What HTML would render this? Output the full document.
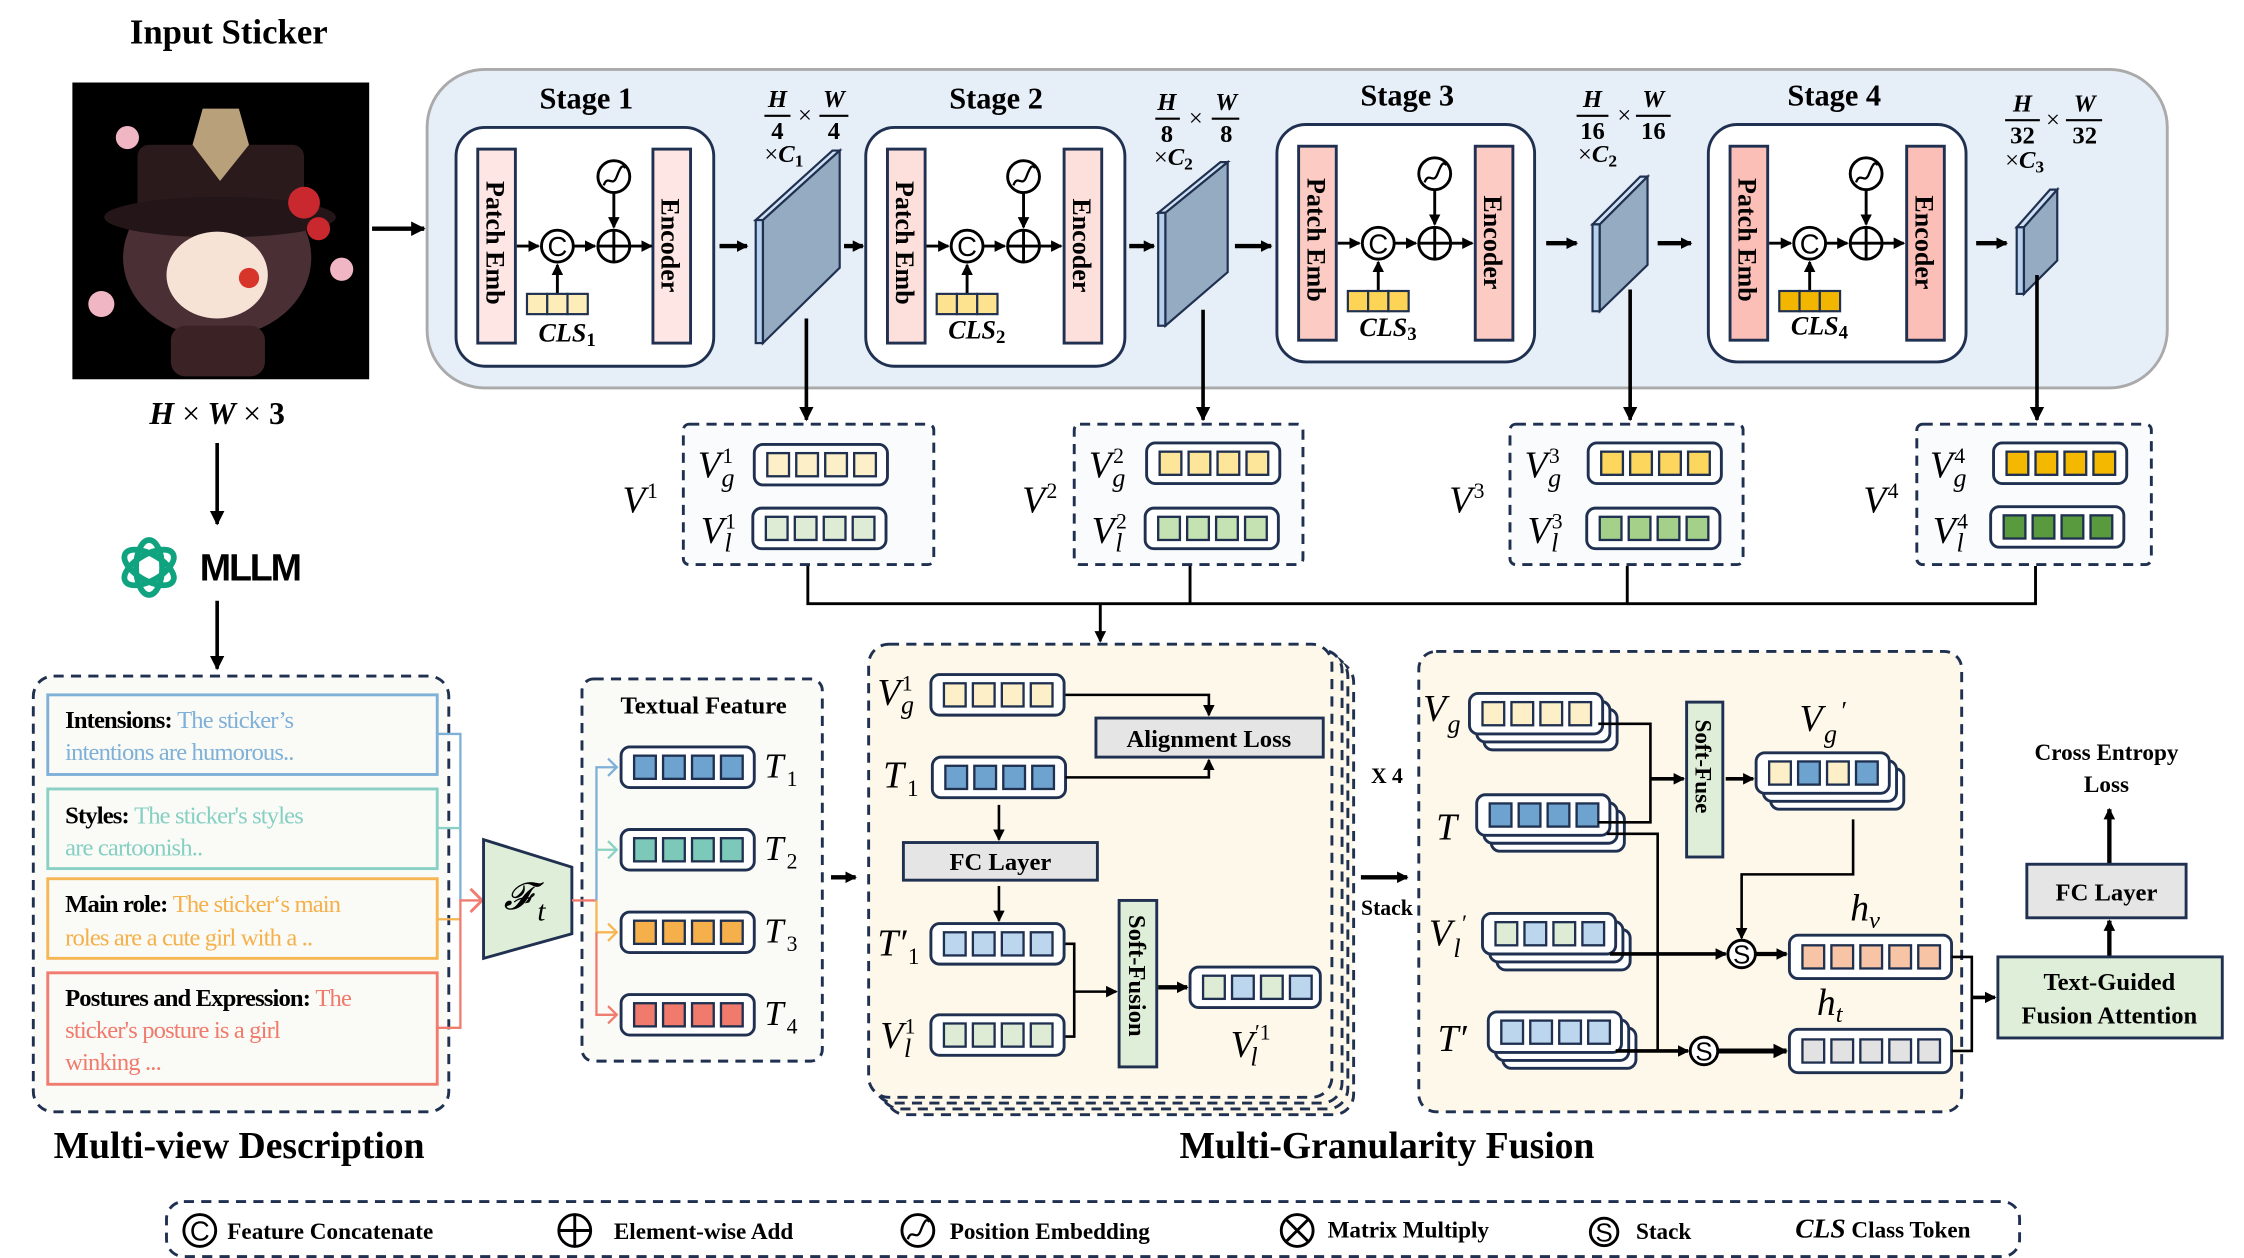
<!DOCTYPE html>
<html><head><meta charset="utf-8"><style>
html,body{margin:0;padding:0;background:#fff;}
svg{display:block;}
text{font-family:"Liberation Serif",serif;}
.b{font-weight:bold;}
.i{font-style:italic;}
.s{font-family:"Liberation Sans",sans-serif;}
</style></head><body>
<svg width="2244" height="1258" viewBox="0 0 1550 869" preserveAspectRatio="none" xmlns="http://www.w3.org/2000/svg">
<defs>
<marker id="ah" markerWidth="8" markerHeight="8" refX="7" refY="4" orient="auto" markerUnits="userSpaceOnUse"><path d="M0,0 L8,4 L0,8 z" fill="#000"/></marker>
<marker id="ahb" markerWidth="10" markerHeight="10" refX="9" refY="5" orient="auto" markerUnits="userSpaceOnUse"><path d="M0,0 L10,5 L0,10 z" fill="#000"/></marker>
<g id="r4"><rect x="0" y="0" width="92" height="28" rx="6" fill="#fff" stroke="#1f3050" stroke-width="2"/>
<rect x="9" y="6" width="15" height="16" fill="currentColor" stroke="#1f3050" stroke-width="1.6"/><rect x="29" y="6" width="15" height="16" fill="currentColor" stroke="#1f3050" stroke-width="1.6"/><rect x="49" y="6" width="15" height="16" fill="currentColor" stroke="#1f3050" stroke-width="1.6"/><rect x="69" y="6" width="15" height="16" fill="currentColor" stroke="#1f3050" stroke-width="1.6"/></g>
<g id="r4s"><rect x="10" y="11" width="92" height="28" rx="6" fill="#fff" stroke="#1f3050" stroke-width="2"/><rect x="5" y="5.5" width="92" height="28" rx="6" fill="#fff" stroke="#1f3050" stroke-width="2"/><use href="#r4"/></g>
<g id="r5"><rect x="0" y="0" width="112" height="30" rx="6" fill="#fff" stroke="#1f3050" stroke-width="2"/>
<rect x="9" y="7" width="15" height="16" fill="currentColor" stroke="#1f3050" stroke-width="1.6"/><rect x="29" y="7" width="15" height="16" fill="currentColor" stroke="#1f3050" stroke-width="1.6"/><rect x="49" y="7" width="15" height="16" fill="currentColor" stroke="#1f3050" stroke-width="1.6"/><rect x="69" y="7" width="15" height="16" fill="currentColor" stroke="#1f3050" stroke-width="1.6"/><rect x="89" y="7" width="15" height="16" fill="currentColor" stroke="#1f3050" stroke-width="1.6"/></g>
<g id="cc"><circle r="11" fill="#fff" stroke="#000" stroke-width="2"/><text y="7" text-anchor="middle" font-size="19" class="s">C</text></g>
<g id="pc"><circle r="11" fill="#fff" stroke="#000" stroke-width="2"/><path d="M-11,0H11M0,-11V11" stroke="#000" stroke-width="2"/></g>
<g id="pe"><circle r="11" fill="#fff" stroke="#000" stroke-width="2"/><path d="M-7,6 C-4,-2 -1,8 2,0 S6,-8 8,-6" stroke="#000" stroke-width="1.6" fill="none"/></g>
<g id="sc"><circle r="9.5" fill="#fff" stroke="#000" stroke-width="2"/><text y="6.5" text-anchor="middle" font-size="18" class="s">S</text></g>
</defs>

<!-- Input sticker -->
<text x="158" y="30" text-anchor="middle" font-size="24" class="b">Input Sticker</text>
<rect x="50" y="57" width="205" height="205" fill="#000"/>
<ellipse cx="150" cy="178" rx="65" ry="55" fill="#4a3035"/>
<rect x="95" y="100" width="115" height="55" rx="8" fill="#2a1a1c"/>
<ellipse cx="152" cy="150" rx="80" ry="14" fill="#241618"/>
<polygon points="140,75 165,75 172,100 152,125 133,100" fill="#b8a17a"/>
<ellipse cx="150" cy="190" rx="35" ry="30" fill="#f7e3d6"/>
<circle cx="172" cy="192" r="7" fill="#d8352a"/>
<circle cx="210" cy="140" r="11" fill="#c8282e"/><circle cx="220" cy="158" r="8" fill="#c8282e"/>
<circle cx="88" cy="95" r="8" fill="#f1b6c4"/><circle cx="70" cy="210" r="9" fill="#f1b6c4"/><circle cx="236" cy="186" r="8" fill="#f1b6c4"/>
<rect x="118" y="225" width="65" height="35" rx="10" fill="#3a2225"/>
<text x="150" y="293" text-anchor="middle" font-size="22" class="b i">H <tspan font-style="normal" font-weight="normal">×</tspan> W <tspan font-style="normal" font-weight="normal">×</tspan> <tspan font-style="normal">3</tspan></text>
<line x1="150" y1="306" x2="150" y2="362" stroke="#000" stroke-width="2.5" marker-end="url(#ahb)"/>
<g fill="none" stroke="#10a37f" stroke-width="4">
<ellipse cx="103" cy="392" rx="9" ry="19"/><ellipse cx="103" cy="392" rx="9" ry="19" transform="rotate(60 103 392)"/><ellipse cx="103" cy="392" rx="9" ry="19" transform="rotate(-60 103 392)"/></g>
<text x="138" y="401" font-size="26" class="s b" letter-spacing="-1.5">MLLM</text>
<line x1="150" y1="415" x2="150" y2="462" stroke="#000" stroke-width="2.5" marker-end="url(#ahb)"/>

<!-- top panel -->
<rect x="295" y="48" width="1202" height="220" rx="40" fill="#e6eef8" stroke="#aaaaaa" stroke-width="2"/>
<line x1="257" y1="158" x2="293" y2="158" stroke="#000" stroke-width="3" marker-end="url(#ahb)"/>

<!-- stage boxes -->
<g stroke="#1f3050" stroke-width="2">
<rect x="315" y="88" width="178" height="165" rx="20" fill="#fff"/>
<rect x="598" y="88" width="179" height="165" rx="20" fill="#fff"/>
<rect x="882" y="86" width="178" height="164" rx="20" fill="#fff"/>
<rect x="1180" y="86" width="178" height="164" rx="20" fill="#fff"/>
<rect x="330" y="103" width="26" height="134" fill="#fde6e4"/><rect x="451" y="103" width="26" height="134" fill="#fde6e4"/>
<rect x="613" y="103" width="26" height="134" fill="#fde0dc"/><rect x="735" y="103" width="26" height="134" fill="#fde0dc"/>
<rect x="897" y="101" width="26" height="134" fill="#fbcbc4"/><rect x="1019" y="101" width="26" height="134" fill="#fbcbc4"/>
<rect x="1195" y="101" width="26" height="134" fill="#fbbfb7"/><rect x="1317" y="101" width="26" height="134" fill="#fbbfb7"/>
</g>
<g font-size="18" class="b">
<text x="405" y="75" text-anchor="middle" font-size="21">Stage 1</text>
<text x="688" y="75" text-anchor="middle" font-size="21">Stage 2</text>
<text x="972" y="73" text-anchor="middle" font-size="21">Stage 3</text>
<text x="1267" y="73" text-anchor="middle" font-size="21">Stage 4</text>
<text transform="translate(336,125) rotate(90)">Patch Emb</text><text transform="translate(457,137) rotate(90)">Encoder</text>
<text transform="translate(619,125) rotate(90)">Patch Emb</text><text transform="translate(741,137) rotate(90)">Encoder</text>
<text transform="translate(903,123) rotate(90)">Patch Emb</text><text transform="translate(1025,135) rotate(90)">Encoder</text>
<text transform="translate(1201,123) rotate(90)">Patch Emb</text><text transform="translate(1323,135) rotate(90)">Encoder</text>
</g>
<!-- stage internals -->
<g id="st" stroke="#000" stroke-width="2" fill="none">
<line x1="357" y1="170" x2="372" y2="170" marker-end="url(#ah)"/><line x1="396" y1="170" x2="411" y2="170" marker-end="url(#ah)"/><line x1="435" y1="170" x2="450" y2="170" marker-end="url(#ah)"/>
<line x1="424" y1="133" x2="424" y2="157" marker-end="url(#ah)"/><line x1="385" y1="203" x2="385" y2="183" marker-end="url(#ah)"/>
</g>
<use href="#st" x="283"/><use href="#st" x="567" y="-2"/><use href="#st" x="865" y="-2"/>
<use href="#cc" x="385" y="170"/><use href="#pc" x="424" y="170"/><use href="#pe" x="424" y="122"/>
<use href="#cc" x="668" y="170"/><use href="#pc" x="707" y="170"/><use href="#pe" x="707" y="122"/>
<use href="#cc" x="952" y="168"/><use href="#pc" x="991" y="168"/><use href="#pe" x="991" y="120"/>
<use href="#cc" x="1250" y="168"/><use href="#pc" x="1289" y="168"/><use href="#pe" x="1289" y="120"/>
<g stroke="#1f3050" stroke-width="1.5">
<rect x="364" y="203" width="14" height="14" fill="#fdeeb9"/><rect x="378" y="203" width="14" height="14" fill="#fdeeb9"/><rect x="392" y="203" width="14" height="14" fill="#fdeeb9"/>
<rect x="647" y="203" width="14" height="14" fill="#fde38f"/><rect x="661" y="203" width="14" height="14" fill="#fde38f"/><rect x="675" y="203" width="14" height="14" fill="#fde38f"/>
<rect x="931" y="201" width="14" height="14" fill="#fdd455"/><rect x="945" y="201" width="14" height="14" fill="#fdd455"/><rect x="959" y="201" width="14" height="14" fill="#fdd455"/>
<rect x="1229" y="201" width="14" height="14" fill="#f3b600"/><rect x="1243" y="201" width="14" height="14" fill="#f3b600"/><rect x="1257" y="201" width="14" height="14" fill="#f3b600"/>
</g>
<g font-size="18" class="b i">
<text x="372" y="236">CLS<tspan font-size="13" dy="3" font-style="normal">1</tspan></text>
<text x="655" y="234">CLS<tspan font-size="13" dy="3" font-style="normal">2</tspan></text>
<text x="939" y="232">CLS<tspan font-size="13" dy="3" font-style="normal">3</tspan></text>
<text x="1237" y="231">CLS<tspan font-size="13" dy="3" font-style="normal">4</tspan></text>
</g>
<!-- arrows between -->
<g stroke="#000" stroke-width="3">
<line x1="497" y1="170" x2="516" y2="170" marker-end="url(#ah)"/><line x1="583" y1="170" x2="596" y2="170" marker-end="url(#ah)"/>
<line x1="780" y1="170" x2="797" y2="170" marker-end="url(#ah)"/><line x1="853" y1="170" x2="878" y2="170" marker-end="url(#ah)"/>
<line x1="1068" y1="168" x2="1089" y2="168" marker-end="url(#ah)"/><line x1="1145" y1="168" x2="1168" y2="168" marker-end="url(#ah)"/>
<line x1="1365" y1="168" x2="1386" y2="168" marker-end="url(#ah)"/>
</g>
<!-- feature maps -->
<g stroke="#1f3050" stroke-width="1.5">
<polygon points="522,152 575,104 580,104 527,152" fill="#cfe0f3"/><rect x="522" y="152" width="5" height="85" fill="#b7d0ec"/>
<polygon points="527,152 580,104 580,185 527,237" fill="#94abc2"/>
<polygon points="800,147 843,112 848,112 805,147" fill="#cfe0f3"/><rect x="800" y="147" width="5" height="78" fill="#b7d0ec"/>
<polygon points="805,147 848,112 848,188 805,225" fill="#94abc2"/>
<polygon points="1100,155 1133,122 1138,122 1105,155" fill="#cfe0f3"/><rect x="1100" y="155" width="5" height="60" fill="#b7d0ec"/>
<polygon points="1105,155 1138,122 1138,183 1105,215" fill="#94abc2"/>
<polygon points="1393,157 1416,131 1421,131 1398,157" fill="#cfe0f3"/><rect x="1393" y="157" width="5" height="46" fill="#b7d0ec"/>
<polygon points="1398,157 1421,131 1421,180 1398,203" fill="#94abc2"/>
</g>
<!-- size labels -->
<g font-size="17" class="b i">
<text x="537" y="74" text-anchor="middle">H</text><line x1="528" y1="80" x2="546" y2="80" stroke="#000" stroke-width="1.5"/><text x="537" y="96" text-anchor="middle" font-style="normal">4</text>
<text x="556" y="85" text-anchor="middle" font-weight="normal" font-style="normal">×</text>
<text x="576" y="74" text-anchor="middle">W</text><line x1="566" y1="80" x2="586" y2="80" stroke="#000" stroke-width="1.5"/><text x="576" y="96" text-anchor="middle" font-style="normal">4</text>
<text x="528" y="112"><tspan font-weight="normal" font-style="normal">×</tspan>C<tspan font-size="12" dy="3" font-style="normal">1</tspan></text>
<text x="806" y="76" text-anchor="middle">H</text><line x1="798" y1="82" x2="815" y2="82" stroke="#000" stroke-width="1.5"/><text x="806" y="98" text-anchor="middle" font-style="normal">8</text>
<text x="826" y="87" text-anchor="middle" font-weight="normal" font-style="normal">×</text>
<text x="847" y="76" text-anchor="middle">W</text><line x1="837" y1="82" x2="856" y2="82" stroke="#000" stroke-width="1.5"/><text x="847" y="98" text-anchor="middle" font-style="normal">8</text>
<text x="797" y="114"><tspan font-weight="normal" font-style="normal">×</tspan>C<tspan font-size="12" dy="3" font-style="normal">2</tspan></text>
<text x="1100" y="74" text-anchor="middle">H</text><line x1="1089" y1="80" x2="1111" y2="80" stroke="#000" stroke-width="1.5"/><text x="1100" y="96" text-anchor="middle" font-style="normal">16</text>
<text x="1122" y="85" text-anchor="middle" font-weight="normal" font-style="normal">×</text>
<text x="1142" y="74" text-anchor="middle">W</text><line x1="1130" y1="80" x2="1154" y2="80" stroke="#000" stroke-width="1.5"/><text x="1142" y="96" text-anchor="middle" font-style="normal">16</text>
<text x="1090" y="112"><tspan font-weight="normal" font-style="normal">×</tspan>C<tspan font-size="12" dy="3" font-style="normal">2</tspan></text>
<text x="1397" y="77" text-anchor="middle">H</text><line x1="1385" y1="83" x2="1409" y2="83" stroke="#000" stroke-width="1.5"/><text x="1397" y="99" text-anchor="middle" font-style="normal">32</text>
<text x="1418" y="88" text-anchor="middle" font-weight="normal" font-style="normal">×</text>
<text x="1440" y="77" text-anchor="middle">W</text><line x1="1427" y1="83" x2="1452" y2="83" stroke="#000" stroke-width="1.5"/><text x="1440" y="99" text-anchor="middle" font-style="normal">32</text>
<text x="1385" y="116"><tspan font-weight="normal" font-style="normal">×</tspan>C<tspan font-size="12" dy="3" font-style="normal">3</tspan></text>
</g>
<!-- down arrows -->
<g stroke="#000" stroke-width="2.5">
<line x1="557" y1="220" x2="557" y2="290" marker-end="url(#ahb)"/>
<line x1="831" y1="214" x2="831" y2="290" marker-end="url(#ahb)"/>
<line x1="1126" y1="200" x2="1126" y2="290" marker-end="url(#ahb)"/>
<line x1="1407" y1="190" x2="1407" y2="290" marker-end="url(#ahb)"/>
</g>
<!-- V boxes -->
<g fill="#fafbfc" stroke="#1f3050" stroke-width="2" stroke-dasharray="7,5">
<rect x="472" y="293" width="173" height="97" rx="4"/>
<rect x="742" y="293" width="158" height="97" rx="4"/>
<rect x="1043" y="293" width="161" height="97" rx="4"/>
<rect x="1324" y="293" width="162" height="97" rx="4"/>
</g>
<use href="#r4" x="521" y="307" style="color:#fdf0c8"/><use href="#r4" x="520" y="351" style="color:#deecd6"/>
<use href="#r4" x="792" y="306" style="color:#fde59a"/><use href="#r4" x="791" y="351" style="color:#c5e2b3"/>
<use href="#r4" x="1097" y="306" style="color:#fdd65e"/><use href="#r4" x="1096" y="351" style="color:#a4d08a"/>
<use href="#r4" x="1377" y="306" style="color:#f5b800"/><use href="#r4" x="1375" y="350" style="color:#5a9a3e"/>
<g font-size="26" class="i">
<text x="482" y="330">V<tspan font-size="15" dx="1" dy="-10" font-style="normal">1</tspan><tspan font-size="18" dx="-8" dy="16">g</tspan></text>
<text x="484" y="375">V<tspan font-size="15" dx="1" dy="-10" font-style="normal">1</tspan><tspan font-size="18" dx="-8" dy="16">l</tspan></text>
<text x="752" y="330">V<tspan font-size="15" dx="1" dy="-10" font-style="normal">2</tspan><tspan font-size="18" dx="-8" dy="16">g</tspan></text>
<text x="754" y="375">V<tspan font-size="15" dx="1" dy="-10" font-style="normal">2</tspan><tspan font-size="18" dx="-8" dy="16">l</tspan></text>
<text x="1053" y="330">V<tspan font-size="15" dx="1" dy="-10" font-style="normal">3</tspan><tspan font-size="18" dx="-8" dy="16">g</tspan></text>
<text x="1055" y="375">V<tspan font-size="15" dx="1" dy="-10" font-style="normal">3</tspan><tspan font-size="18" dx="-8" dy="16">l</tspan></text>
<text x="1333" y="330">V<tspan font-size="15" dx="1" dy="-10" font-style="normal">4</tspan><tspan font-size="18" dx="-8" dy="16">g</tspan></text>
<text x="1335" y="375">V<tspan font-size="15" dx="1" dy="-10" font-style="normal">4</tspan><tspan font-size="18" dx="-8" dy="16">l</tspan></text>
<text x="430" y="354">V<tspan font-size="15" dx="1" dy="-10" font-style="normal">1</tspan></text>
<text x="706" y="354">V<tspan font-size="15" dx="1" dy="-10" font-style="normal">2</tspan></text>
<text x="1001" y="354">V<tspan font-size="15" dx="1" dy="-10" font-style="normal">3</tspan></text>
<text x="1287" y="354">V<tspan font-size="15" dx="1" dy="-10" font-style="normal">4</tspan></text>
</g>
<g stroke="#000" stroke-width="2" fill="none">
<path d="M558,391V417H1406V391"/><path d="M822,391V417M1124,391V417"/>
<line x1="760" y1="417" x2="760" y2="443" marker-end="url(#ah)"/>
</g>

<!-- Multi-view description -->
<rect x="23" y="467" width="287" height="301" rx="14" fill="#fafbf6" stroke="#1f3050" stroke-width="2" stroke-dasharray="7,5"/>
<rect x="33" y="480" width="269" height="55" fill="#fafbf6" stroke="#7fb0d8" stroke-width="2"/>
<rect x="33" y="545" width="269" height="55" fill="#fafbf6" stroke="#8ad0c4" stroke-width="2"/>
<rect x="33" y="607" width="269" height="55" fill="#fafbf6" stroke="#f6b654" stroke-width="2"/>
<rect x="33" y="672" width="269" height="77" fill="#fafbf6" stroke="#f07c70" stroke-width="2"/>
<g font-size="17" class="s" letter-spacing="-0.6">
<text x="45" y="503"><tspan class="b" font-family="Liberation Serif" fill="#000">Intensions: </tspan><tspan fill="#7fb0d8">The sticker’s</tspan></text>
<text x="45" y="525" fill="#7fb0d8">intentions are humorous..</text>
<text x="45" y="569"><tspan class="b" font-family="Liberation Serif" fill="#000">Styles: </tspan><tspan fill="#86cfc3">The sticker's styles</tspan></text>
<text x="45" y="591" fill="#86cfc3">are cartoonish..</text>
<text x="45" y="630"><tspan class="b" font-family="Liberation Serif" fill="#000">Main role: </tspan><tspan fill="#f6b04b">The sticker‘s main</tspan></text>
<text x="45" y="653" fill="#f6b04b">roles are a cute girl with a ..</text>
<text x="45" y="695"><tspan class="b" font-family="Liberation Serif" fill="#000">Postures and Expression: </tspan><tspan fill="#f07a6c">The</tspan></text>
<text x="45" y="717" fill="#f07a6c">sticker's posture is a girl</text>
<text x="45" y="739" fill="#f07a6c">winking ...</text>
</g>
<g fill="none" stroke-width="1.6">
<path d="M302,507H318V622" stroke="#7fb0d8"/>
<path d="M302,572H318" stroke="#8ad0c4"/>
<path d="M302,635H318" stroke="#f6b654"/>
<path d="M302,710H318V622H332" stroke="#f07c70"/>
<path d="M325,614L333,622L325,630" stroke="#f07c70" stroke-width="2"/>
</g>
<text x="37" y="800" font-size="26" class="b">Multi-view Description</text>

<!-- Ft trapezoid -->
<polygon points="334,580 395,599 395,645 334,662" fill="#dfeed8" stroke="#1f3050" stroke-width="2"/>
<text x="348" y="628" font-size="26" class="i">𝓕<tspan font-size="20" dx="4" dy="8">t</tspan></text>

<!-- Textual feature -->
<rect x="402" y="469" width="166" height="264" rx="8" fill="#fafbf6" stroke="#1f3050" stroke-width="2" stroke-dasharray="7,5"/>
<text x="486" y="493" text-anchor="middle" font-size="17" class="b">Textual Feature</text>
<g fill="none" stroke-width="1.6">
<path d="M395,622H412" stroke="#f07c70"/>
<path d="M412,622V530H426" stroke="#7fb0d8"/><path d="M420,524L426,530L420,536" stroke="#7fb0d8"/>
<path d="M412,587H426" stroke="#8ad0c4"/><path d="M420,581L426,587L420,593" stroke="#8ad0c4"/>
<path d="M412,622V644H426" stroke="#f6b654"/><path d="M420,638L426,644L420,650" stroke="#f6b654"/>
<path d="M412,644V701H426" stroke="#f07c70"/><path d="M420,695L426,701L420,707" stroke="#f07c70"/>
</g>
<use href="#r4" x="429" y="516" style="color:#6fa3cf"/>
<use href="#r4" x="429" y="573" style="color:#7dc9b9"/>
<use href="#r4" x="429" y="630" style="color:#f6b04b"/>
<use href="#r4" x="429" y="687" style="color:#f07a6c"/>
<g font-size="24" class="i">
<text x="528" y="537">T<tspan font-size="15" dx="2" dy="6" font-style="normal">1</tspan></text>
<text x="528" y="594">T<tspan font-size="15" dx="2" dy="6" font-style="normal">2</tspan></text>
<text x="528" y="651">T<tspan font-size="15" dx="2" dy="6" font-style="normal">3</tspan></text>
<text x="528" y="708">T<tspan font-size="15" dx="2" dy="6" font-style="normal">4</tspan></text>
</g>
<line x1="574" y1="606" x2="591" y2="606" stroke="#000" stroke-width="3" marker-end="url(#ah)"/>

<!-- Multi-granularity box 1 -->
<g fill="#fdf8ea" stroke="#1f3050" stroke-width="2" stroke-dasharray="7,5">
<rect x="612" y="457" width="323" height="313" rx="14"/>
<rect x="608" y="453" width="323" height="313" rx="14"/>
<rect x="604" y="449" width="323" height="313" rx="14"/>
<rect x="600" y="445" width="320" height="313" rx="14"/>
</g>
<use href="#r4" x="643" y="466" style="color:#fdf0c8"/>
<use href="#r4" x="644" y="523" style="color:#6fa3cf"/>
<use href="#r4" x="643" y="638" style="color:#bcd6ee"/>
<use href="#r4" x="643" y="701" style="color:#deecd6"/>
<rect x="757" y="496" width="157" height="27" fill="#e5e5e5" stroke="#1f3050" stroke-width="2"/>
<text x="835" y="516" text-anchor="middle" font-size="17" class="b">Alignment Loss</text>
<rect x="624" y="582" width="134" height="26" fill="#e5e5e5" stroke="#1f3050" stroke-width="2"/>
<text x="691" y="601" text-anchor="middle" font-size="17" class="b">FC Layer</text>
<rect x="773" y="622" width="26" height="115" fill="#dfeed8" stroke="#1f3050" stroke-width="2"/>
<text transform="translate(780,632) rotate(90)" font-size="17" class="b">Soft-Fusion</text>
<g>
<rect x="822" y="668" width="90" height="28" rx="6" fill="#fff" stroke="#1f3050" stroke-width="2"/>
<rect x="831" y="674" width="15" height="16" fill="#deecd6" stroke="#1f3050" stroke-width="1.6"/><rect x="851" y="674" width="15" height="16" fill="#bcd6ee" stroke="#1f3050" stroke-width="1.6"/><rect x="871" y="674" width="15" height="16" fill="#deecd6" stroke="#1f3050" stroke-width="1.6"/><rect x="891" y="674" width="15" height="16" fill="#bcd6ee" stroke="#1f3050" stroke-width="1.6"/>
</g>
<g font-size="26" class="i">
<text x="606" y="487">V<tspan font-size="15" dx="1" dy="-10" font-style="normal">1</tspan><tspan font-size="18" dx="-8" dy="16">g</tspan></text>
<text x="610" y="544">T<tspan font-size="16" dx="2" dy="6" font-style="normal">1</tspan></text>
<text x="606" y="660">T′<tspan font-size="16" dx="1" dy="6" font-style="normal">1</tspan></text>
<text x="608" y="724">V<tspan font-size="15" dx="1" dy="-10" font-style="normal">1</tspan><tspan font-size="18" dx="-8" dy="16">l</tspan></text>
<text x="850" y="730">V<tspan font-size="15" dx="1" dy="-12" font-style="normal">′1</tspan><tspan font-size="18" dx="-14" dy="18">l</tspan></text>
</g>
<g stroke="#000" stroke-width="1.8" fill="none">
<path d="M736,480H835V494" marker-end="url(#ah)"/>
<path d="M736,537H835V525" marker-end="url(#ah)"/>
<line x1="690" y1="556" x2="690" y2="580" marker-end="url(#ah)"/>
<line x1="690" y1="612" x2="690" y2="636" marker-end="url(#ah)"/>
<path d="M736,652H742V716H736"/>
<line x1="742" y1="685" x2="771" y2="685" marker-end="url(#ah)"/>
<line x1="800" y1="682" x2="820" y2="682" stroke-width="3" marker-end="url(#ah)"/>
</g>

<text x="958" y="541" text-anchor="middle" font-size="15" class="b">X 4</text>
<line x1="940" y1="606" x2="972" y2="606" stroke="#000" stroke-width="3" marker-end="url(#ah)"/>
<text x="958" y="632" text-anchor="middle" font-size="15" class="b">Stack</text>

<!-- Multi-granularity box 2 -->
<rect x="980" y="450" width="375" height="318" rx="12" fill="#fdf8ea" stroke="#1f3050" stroke-width="2" stroke-dasharray="7,5"/>
<use href="#r4s" x="1015" y="479" style="color:#fdf0c8"/>
<use href="#r4s" x="1020" y="549" style="color:#6fa3cf"/>
<g transform="translate(1024,631)"><rect x="10" y="11" width="92" height="28" rx="6" fill="#fff" stroke="#1f3050" stroke-width="2"/><rect x="5" y="5.5" width="92" height="28" rx="6" fill="#fff" stroke="#1f3050" stroke-width="2"/><rect x="0" y="0" width="92" height="28" rx="6" fill="#fff" stroke="#1f3050" stroke-width="2"/>
<rect x="9" y="6" width="15" height="16" fill="#deecd6" stroke="#1f3050" stroke-width="1.6"/><rect x="29" y="6" width="15" height="16" fill="#bcd6ee" stroke="#1f3050" stroke-width="1.6"/><rect x="49" y="6" width="15" height="16" fill="#deecd6" stroke="#1f3050" stroke-width="1.6"/><rect x="69" y="6" width="15" height="16" fill="#bcd6ee" stroke="#1f3050" stroke-width="1.6"/></g>
<use href="#r4s" x="1028" y="699" style="color:#bcd6ee"/>
<g transform="translate(1213,520)"><rect x="10" y="11" width="92" height="28" rx="6" fill="#fff" stroke="#1f3050" stroke-width="2"/><rect x="5" y="5.5" width="92" height="28" rx="6" fill="#fff" stroke="#1f3050" stroke-width="2"/><rect x="0" y="0" width="92" height="28" rx="6" fill="#fff" stroke="#1f3050" stroke-width="2"/>
<rect x="9" y="6" width="15" height="16" fill="#fdf0c8" stroke="#1f3050" stroke-width="1.6"/><rect x="29" y="6" width="15" height="16" fill="#6fa3cf" stroke="#1f3050" stroke-width="1.6"/><rect x="49" y="6" width="15" height="16" fill="#fdf0c8" stroke="#1f3050" stroke-width="1.6"/><rect x="69" y="6" width="15" height="16" fill="#6fa3cf" stroke="#1f3050" stroke-width="1.6"/></g>
<rect x="1165" y="485" width="25" height="107" fill="#dfeed8" stroke="#1f3050" stroke-width="2"/>
<text transform="translate(1171,497) rotate(90)" font-size="16" class="b">Soft-Fuse</text>
<use href="#r5" x="1236" y="646" style="color:#f7c5a5"/>
<use href="#r5" x="1236" y="711" style="color:#e2e2e2"/>
<g font-size="26" class="i">
<text x="983" y="498">V<tspan font-size="18" dx="1" dy="8">g</tspan></text>
<text x="992" y="580">T</text>
<text x="987" y="653">V<tspan font-size="18" dx="1" dy="8">l</tspan><tspan font-size="16" dy="-18">′</tspan></text>
<text x="993" y="726">T′</text>
<text x="1243" y="505">V<tspan font-size="18" dx="1" dy="8">g</tspan><tspan font-size="18" dx="2" dy="-16">′</tspan></text>
<text x="1278" y="636">h<tspan font-size="17" dy="5">v</tspan></text>
<text x="1255" y="701">h<tspan font-size="17" dy="5">t</tspan></text>
</g>
<g stroke="#000" stroke-width="1.8" fill="none">
<path d="M1104,500H1140V568H1104"/>
<line x1="1140" y1="538" x2="1163" y2="538" stroke-width="2.5" marker-end="url(#ah)"/>
<line x1="1192" y1="538" x2="1211" y2="538" stroke-width="2.5" marker-end="url(#ah)"/>
<path d="M1280,566V604H1203V648" marker-end="url(#ah)"/>
<line x1="1112" y1="659" x2="1192" y2="659" stroke-width="2.5" marker-end="url(#ah)"/>
<path d="M1110,576H1145V726"/>
<line x1="1116" y1="726" x2="1166" y2="726" stroke-width="2.5" marker-end="url(#ah)"/>
<line x1="1213" y1="659" x2="1234" y2="659" stroke-width="3" marker-end="url(#ah)"/>
<line x1="1187" y1="726" x2="1234" y2="726" stroke-width="3.5" marker-end="url(#ahb)"/>
<path d="M1348,661H1362V726H1348"/>
<line x1="1362" y1="689" x2="1378" y2="689" stroke-width="2.5" marker-end="url(#ah)"/>
<line x1="1457" y1="661" x2="1457" y2="636" stroke-width="3" marker-end="url(#ah)"/>
<line x1="1457" y1="597" x2="1457" y2="559" stroke-width="3" marker-end="url(#ah)"/>
</g>
<use href="#sc" x="1203" y="659"/><use href="#sc" x="1177" y="726"/>
<rect x="1380" y="661" width="155" height="56" fill="#dfeed8" stroke="#1f3050" stroke-width="2"/>
<text x="1457" y="684" text-anchor="middle" font-size="17" class="b">Text-Guided</text>
<text x="1457" y="707" text-anchor="middle" font-size="17" class="b">Fusion Attention</text>
<rect x="1400" y="597" width="110" height="37" fill="#e5e5e5" stroke="#1f3050" stroke-width="2"/>
<text x="1455" y="622" text-anchor="middle" font-size="17" class="b">FC Layer</text>
<text x="1455" y="525" text-anchor="middle" font-size="16" class="b">Cross Entropy</text>
<text x="1455" y="547" text-anchor="middle" font-size="16" class="b">Loss</text>
<text x="958" y="800" text-anchor="middle" font-size="26" class="b">Multi-Granularity Fusion</text>

<!-- Legend -->
<rect x="115" y="830" width="1280" height="38" rx="12" fill="#fff" stroke="#1f3050" stroke-width="2" stroke-dasharray="7,5"/>
<use href="#cc" x="138" y="850"/>
<use href="#pc" x="397" y="850"/>
<use href="#pe" x="634" y="850"/>
<g transform="translate(896,850)"><circle r="11" fill="#fff" stroke="#000" stroke-width="2"/><path d="M-8,-8L8,8M8,-8L-8,8" stroke="#000" stroke-width="2"/></g>
<use href="#sc" x="1108" y="851"/>
<g font-size="16" class="b">
<text x="157" y="856">Feature Concatenate</text>
<text x="424" y="856">Element-wise Add</text>
<text x="656" y="856">Position Embedding</text>
<text x="917" y="855">Matrix Multiply</text>
<text x="1130" y="856">Stack</text>
<text x="1240" y="855"><tspan class="i" font-size="19">CLS</tspan> Class Token</text>
</g>
</svg>
</body></html>
